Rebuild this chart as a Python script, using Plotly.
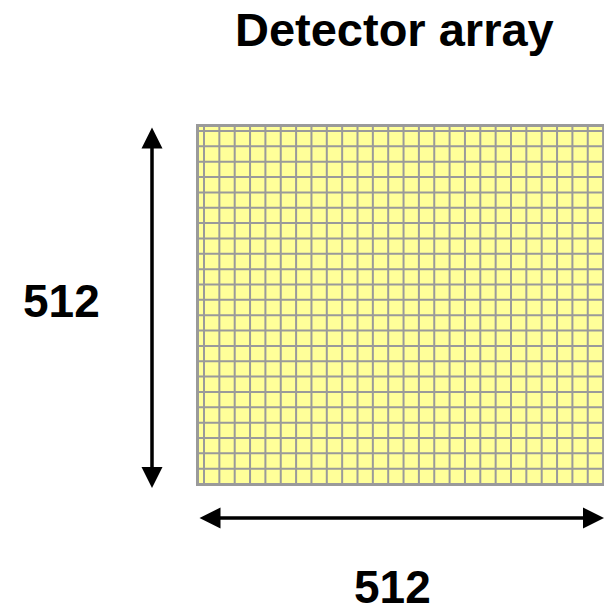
import numpy as np
import plotly.graph_objects as go

# ---- content ----
title_text = "Detector array"
dim_labels = ["512", "512"]          # height label (left), width label (bottom)
grid_cols = 27                       # visible cell columns
grid_rows = 24                       # visible cell rows

# ---- layout geometry (page pixel coordinates) ----
W, H = 604, 608
det_x0, det_x1 = 197.5, 610.0
det_y0, det_y1 = 125.5, 484.5
pitch_x = 15.35
pitch_y = 15.35
first_vx = 204.0
first_hy = 131.0

yellow = "#ffff99"
gray = "#9a9a9a"

fig = go.Figure()
# invisible trace to establish axes
fig.add_trace(go.Scatter(x=[0, W], y=[0, H], mode="markers",
                         marker=dict(opacity=0), hoverinfo="skip", showlegend=False))

shapes = []
shapes.append(dict(type="rect", xref="x", yref="y", x0=det_x0, x1=det_x1,
                   y0=det_y0, y1=det_y1, fillcolor=yellow,
                   line=dict(color=gray, width=3), layer="above"))
for k in range(grid_cols):
    x = first_vx + k * pitch_x
    if x > W + 2:
        break
    shapes.append(dict(type="line", xref="x", yref="y", x0=x, x1=x,
                       y0=det_y0, y1=det_y1, line=dict(color=gray, width=2), layer="above"))
for k in range(grid_rows):
    y = first_hy + k * pitch_y
    if y > det_y1:
        break
    shapes.append(dict(type="line", xref="x", yref="y", x0=det_x0, x1=det_x1,
                       y0=y, y1=y, line=dict(color=gray, width=2), layer="above"))

font_family = "Liberation Sans, Arial"
annotations = [
    # title
    dict(x=394, y=29, xref="x", yref="y", text=title_text, showarrow=False,
         font=dict(family=font_family, size=47, color="black", weight="bold")),
    # height label
    dict(x=61, y=301, xref="x", yref="y", text=dim_labels[0], showarrow=False,
         font=dict(family=font_family, size=46, color="black", weight="bold")),
    # width label
    dict(x=392, y=587, xref="x", yref="y", text=dim_labels[1], showarrow=False,
         font=dict(family=font_family, size=46, color="black", weight="bold")),
    # vertical double arrow
    dict(x=152, y=488, ax=152, ay=126, xref="x", yref="y", axref="x", ayref="y",
         text="", showarrow=True, arrowside="end+start", arrowhead=2, startarrowhead=2,
         arrowsize=1.2, startarrowsize=1.2, arrowwidth=3.5, arrowcolor="black"),
    # horizontal double arrow
    dict(x=604, y=518, ax=198, ay=518, xref="x", yref="y", axref="x", ayref="y",
         text="", showarrow=True, arrowside="end+start", arrowhead=2, startarrowhead=2,
         arrowsize=1.2, startarrowsize=1.2, arrowwidth=3.5, arrowcolor="black"),
]

fig.update_layout(
    width=W, height=H,
    margin=dict(l=0, r=0, t=0, b=0),
    paper_bgcolor="white", plot_bgcolor="white",
    xaxis=dict(range=[0, W], visible=False, fixedrange=True),
    yaxis=dict(range=[H, 0], visible=False, fixedrange=True),
    shapes=shapes, annotations=annotations, showlegend=False,
)

fig.write_html(
    "out.html",
    config={"displayModeBar": False, "staticPlot": True},
    post_script="document.body.style.margin='0';document.body.style.overflow='hidden';",
)
